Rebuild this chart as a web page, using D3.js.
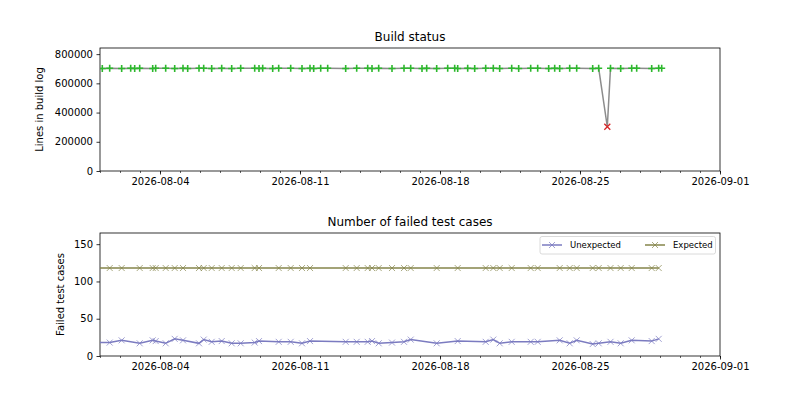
<!DOCTYPE html>
<html><head><meta charset="utf-8">
<script src="https://cdn.jsdelivr.net/npm/d3@7"></script>
<style>
body{margin:0;background:#fff;}
svg{font-family:"DejaVu Sans",sans-serif;}
</style></head>
<body>
<svg id="c" width="800" height="400"></svg>
<script>
// ---------- data ----------
const buildDates = ["2026-07-31T12:00","2026-08-01T02:45","2026-08-01T11:38","2026-08-02T02:00","2026-08-02T12:50","2026-08-02T17:38","2026-08-02T23:38","2026-08-03T15:14","2026-08-03T18:50","2026-08-04T06:50","2026-08-04T17:38","2026-08-05T03:36","2026-08-05T09:14","2026-08-05T22:48","2026-08-06T04:26","2026-08-06T14:02","2026-08-07T02:02","2026-08-07T14:02","2026-08-08T00:50","2026-08-08T17:38","2026-08-08T22:48","2026-08-09T03:14","2026-08-09T15:14","2026-08-09T22:26","2026-08-10T12:50","2026-08-11T02:24","2026-08-11T12:00","2026-08-11T16:26","2026-08-12T00:50","2026-08-12T09:14","2026-08-13T06:50","2026-08-13T20:02","2026-08-14T09:14","2026-08-14T14:24","2026-08-14T22:26","2026-08-15T14:24","2026-08-16T04:48","2026-08-16T12:50","2026-08-17T02:24","2026-08-17T08:02","2026-08-17T20:02","2026-08-18T09:14","2026-08-18T17:38","2026-08-18T21:14","2026-08-19T09:14","2026-08-19T17:38","2026-08-20T06:50","2026-08-20T15:58","2026-08-20T23:38","2026-08-21T14:02","2026-08-21T22:26","2026-08-22T12:50","2026-08-22T21:14","2026-08-23T10:26","2026-08-23T17:38","2026-08-23T23:38","2026-08-24T11:38","2026-08-24T20:02","2026-08-25T15:14","2026-08-25T22:26","2026-08-26T08:46","2026-08-26T12:36","2026-08-27T00:50","2026-08-27T14:02","2026-08-27T20:02","2026-08-28T14:02","2026-08-28T22:26","2026-08-29T02:02"];
const buildLines = [703000,702000,703000,702000,703000,702000,703000,702000,703000,703000,702000,703000,702000,703000,703000,702000,703000,702000,703000,703000,702000,703000,702000,703000,703000,702000,703000,702000,703000,703000,702000,703000,703000,702000,703000,702000,703000,703000,702000,703000,702000,703000,703000,702000,703000,702000,703000,703000,702000,703000,702000,703000,703000,702000,703000,702000,703000,703000,702000,703000,303000,703000,702000,703000,703000,702000,703000,703000];
const buildOk = [1,1,1,1,1,1,1,1,1,1,1,1,1,1,1,1,1,1,1,1,1,1,1,1,1,1,1,1,1,1,1,1,1,1,1,1,1,1,1,1,1,1,1,1,1,1,1,1,1,1,1,1,1,1,1,1,1,1,1,1,0,1,1,1,1,1,1,1];

const testDates = ["2026-07-31T12:00","2026-08-01T11:38","2026-08-02T02:00","2026-08-02T23:38","2026-08-03T15:14","2026-08-03T18:50","2026-08-04T06:50","2026-08-04T17:38","2026-08-05T03:36","2026-08-05T22:48","2026-08-06T04:26","2026-08-06T14:02","2026-08-07T02:02","2026-08-07T14:02","2026-08-08T00:50","2026-08-08T17:38","2026-08-08T22:48","2026-08-09T22:26","2026-08-10T12:50","2026-08-11T02:24","2026-08-11T12:00","2026-08-13T06:50","2026-08-13T20:02","2026-08-14T09:14","2026-08-14T14:24","2026-08-14T22:26","2026-08-15T14:24","2026-08-16T04:48","2026-08-16T12:50","2026-08-17T20:02","2026-08-18T21:14","2026-08-20T06:50","2026-08-20T15:58","2026-08-20T23:38","2026-08-21T14:02","2026-08-22T12:50","2026-08-22T21:14","2026-08-23T23:38","2026-08-24T11:38","2026-08-24T20:02","2026-08-25T15:14","2026-08-25T22:26","2026-08-26T12:36","2026-08-27T00:50","2026-08-27T14:02","2026-08-28T14:02","2026-08-28T22:26"];
const unexpected = [18,18,21,17,21,20,17,23,21,17,22,19,20,17,17,18,20,19,19,17,20,19,19,19,20,17,18,19,22,17,20,19,22,17,19,19,19,21,17,21,16,17,19,17,21,20,23];
const expected = [118,118,118,118,118,118,118,118,118,118,118,118,118,118,118,118,118,118,118,118,118,118,118,118,118,118,118,118,118,118,118,118,118,118,118,118,118,118,118,118,118,118,118,118,118,118,118];

const xDomainLabels = ["2026-08-01","2026-09-01"];
const xTickLabels = ["2026-08-04","2026-08-11","2026-08-18","2026-08-25","2026-09-01"];
const topYTicks = [0,200000,400000,600000,800000];
const botYTicks = [0,50,100,150];
const seriesNames = ["Unexpected","Expected"];

// ---------- drawing ----------
const parseT = d3.utcParse("%Y-%m-%dT%H:%M");
const parseD = d3.utcParse("%Y-%m-%d");
const svg = d3.select("#c");
const L = 100, R = 720;
const x = d3.scaleUtc().domain(xDomainLabels.map(parseD)).range([L, R]);
const majorTicks = xTickLabels.map(parseD);
const minorTicks = d3.utcDay.range(parseD(xDomainLabels[0]), d3.utcDay.offset(parseD(xDomainLabels[1]),1));

const builds = buildDates.map((d,i)=>({t:parseT(d), v:buildLines[i], ok:buildOk[i]}));
const tests = testDates.map((d,i)=>({t:parseT(d), u:unexpected[i], e:expected[i]}));

function panel(top, bottom, yMax, yTicks, title, ylabel, ylabelX, id){
  const y = d3.scaleLinear().domain([0, yMax]).range([bottom, top]);
  const g = svg.append("g");
  svg.append("clipPath").attr("id", id).append("rect")
    .attr("x", L).attr("y", top).attr("width", R-L).attr("height", bottom-top);
  const xa = g.append("g").attr("transform", `translate(0,${bottom})`)
    .call(d3.axisBottom(x).tickValues(majorTicks).tickFormat(d3.utcFormat("%Y-%m-%d")).tickSize(3.5).tickSizeOuter(0).tickPadding(3.5));
  xa.select(".domain").remove();
  xa.selectAll("text").attr("font-size", 10).attr("fill", "#000").attr("font-family", "DejaVu Sans");
  xa.selectAll("line").attr("stroke", "#000").attr("stroke-width", 0.8);
  g.append("g").attr("transform", `translate(0,${bottom})`)
    .call(d3.axisBottom(x).tickValues(minorTicks).tickFormat("").tickSize(2).tickSizeOuter(0))
    .call(s=>{s.select(".domain").remove(); s.selectAll("line").attr("stroke","#000").attr("stroke-width",0.6);});
  const ya = g.append("g").attr("transform", `translate(${L},0)`)
    .call(d3.axisLeft(y).tickValues(yTicks).tickFormat(d3.format("d")).tickSize(3.5).tickSizeOuter(0).tickPadding(3.5));
  ya.select(".domain").remove();
  ya.selectAll("text").attr("font-size", 10).attr("fill", "#000").attr("font-family", "DejaVu Sans");
  ya.selectAll("line").attr("stroke", "#000").attr("stroke-width", 0.8);
  g.append("rect").attr("x", L).attr("y", top).attr("width", R-L).attr("height", bottom-top)
    .attr("fill", "none").attr("stroke", "#000").attr("stroke-width", 0.8);
  g.append("text").attr("x", (L+R)/2).attr("y", top-7).attr("text-anchor", "middle")
    .attr("font-size", 12).text(title);
  g.append("text").attr("transform", `translate(${ylabelX},${(top+bottom)/2}) rotate(-90)`)
    .attr("text-anchor", "middle").attr("font-size", 10).text(ylabel);
  const plot = svg.append("g").attr("clip-path", `url(#${id})`);
  return {y, plot};
}

const plusPath = "M-3.5,0H3.5M0,-3.5V3.5";
const xPath = "M-3,-3L3,3M-3,3L3,-3";

// top panel
const p1 = panel(48, 171, 842000, topYTicks, "Build status", "Lines in build log", 43, "clipTop");
p1.plot.append("path").datum(builds)
  .attr("d", d3.line().x(d=>x(d.t)).y(d=>p1.y(d.v)))
  .attr("fill", "none").attr("stroke", "#808080").attr("stroke-width", 1.5).attr("opacity", 0.9);
p1.plot.selectAll(".bm").data(builds).join("path")
  .attr("transform", d=>`translate(${x(d.t)},${p1.y(d.v)})`)
  .attr("d", d=>d.ok ? plusPath : xPath)
  .attr("fill", "none")
  .attr("stroke", d=>d.ok ? "#2cb82c" : "#d62728")
  .attr("stroke-width", d=>d.ok ? 1.6 : 1.3);

// bottom panel
const p2 = panel(233, 356, 165, botYTicks, "Number of failed test cases", "Failed test cases", 64, "clipBot");
const colors = ["#7b7bc0", "#85854a"];
const keys = ["u", "e"];
keys.forEach((k,i)=>{
  p2.plot.append("path").datum(tests)
    .attr("d", d3.line().x(d=>x(d.t)).y(d=>p2.y(d[k])))
    .attr("fill", "none").attr("stroke", colors[i]).attr("stroke-width", 1.5);
  p2.plot.selectAll(".m"+k).data(tests).join("path")
    .attr("transform", d=>`translate(${x(d.t)},${p2.y(d[k])})`)
    .attr("d", xPath).attr("fill", "none").attr("stroke", colors[i])
    .attr("stroke-width", 1).attr("opacity", 0.7);
});

// legend
const lg = svg.append("g");
lg.append("rect").attr("x", 540).attr("y", 236.5).attr("width", 175.5).attr("height", 17.5)
  .attr("rx", 2).attr("fill", "#fff").attr("fill-opacity", 0.8).attr("stroke", "#d0d0d0").attr("stroke-width", 0.8);
const legX = [542, 645];
seriesNames.forEach((n,i)=>{
  const cx = legX[i];
  lg.append("line").attr("x1", cx).attr("x2", cx+20).attr("y1", 245).attr("y2", 245)
    .attr("stroke", colors[i]).attr("stroke-width", 1.5);
  lg.append("path").attr("transform", `translate(${cx+10},245)`).attr("d", xPath)
    .attr("fill", "none").attr("stroke", colors[i]).attr("stroke-width", 1).attr("opacity", 0.7);
  lg.append("text").attr("x", cx+28).attr("y", 248).attr("font-size", 8.5).text(n);
});
</script>
</body></html>
